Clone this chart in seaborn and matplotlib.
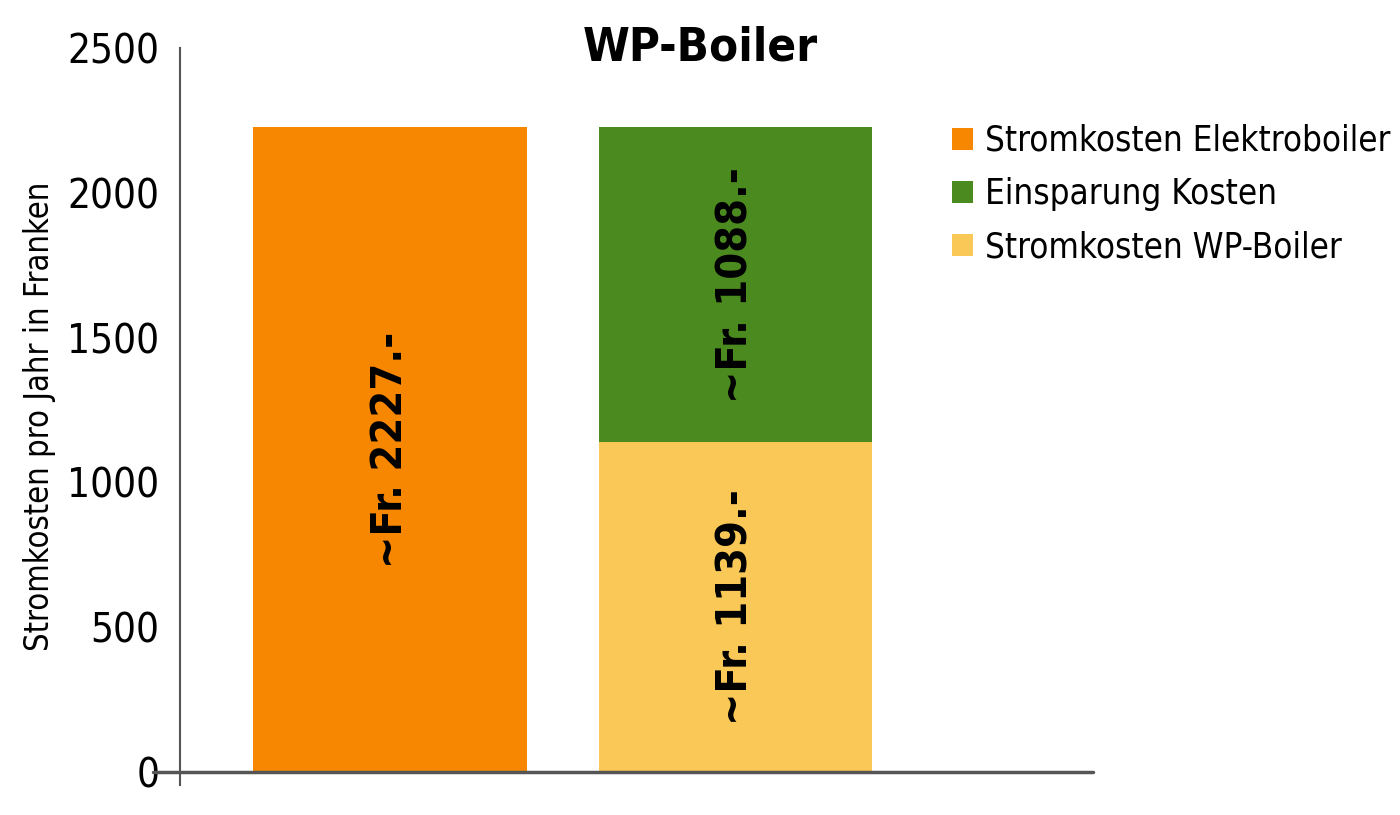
import numpy as np
import pandas as pd
import seaborn as sns
import matplotlib.pyplot as plt
from matplotlib.patches import Patch

# values (Franken per year)
categories = ["Elektroboiler", "WP-Boiler"]
strom_elektro = 2227
strom_wp = 1139
einsparung = 1088
legend_labels = ["Stromkosten Elektroboiler", "Einsparung Kosten", "Stromkosten WP-Boiler"]

orange = "#F78700"
green = "#4B8A1F"
yellow = "#FAC856"

sns.set_style("white")
plt.rcParams['font.family'] = ['DejaVu Sans']
plt.rcParams['font.stretch'] = 'condensed'
plt.rcParams['text.color'] = 'black'
plt.rcParams['axes.labelcolor'] = 'black'
plt.rcParams['ytick.labelcolor'] = 'black'

fig = plt.figure(figsize=(14, 8.15), dpi=100)
ax = fig.add_axes([180 / 1400, 30 / 815, (1093 - 180) / 1400, (785 - 48) / 815])

# back layer: full heights (WP total = strom + einsparung)
df_total = pd.DataFrame({"cat": categories, "val": [strom_elektro, strom_wp + einsparung]})
sns.barplot(data=df_total, x="cat", y="val", hue="cat", order=categories,
            palette=[orange, green], legend=False, width=0.793, saturation=1,
            linewidth=0, ax=ax)
# front layer: WP-Boiler running cost
df_wp = pd.DataFrame({"cat": ["WP-Boiler"], "val": [strom_wp]})
sns.barplot(data=df_wp, x="cat", y="val", order=categories, color=yellow,
            width=0.793, saturation=1, linewidth=0, ax=ax)

ax.set_xlim(-0.608, 2.035)
ax.set_ylim(-45, 2500)
ax.set_yticks([0, 500, 1000, 1500, 2000, 2500])
ax.set_xticks([])
ax.set_xlabel("")
ax.set_ylabel("Stromkosten pro Jahr in Franken", fontsize=23.5, labelpad=8)
ax.tick_params(axis='y', labelsize=29, length=9, width=1.5, color="#555555", pad=6)

for s in ["top", "right", "bottom"]:
    ax.spines[s].set_visible(False)
ax.spines["left"].set_color("#555555")
ax.spines["left"].set_linewidth(1.5)
ax.axhline(0, xmin=-0.03, xmax=1, color="#555555", lw=2.5, clip_on=False, zorder=5)

# value labels in the bar segments
lbl = dict(rotation=90, ha="center", va="center", fontsize=31, fontweight="bold")
ax.text(0, strom_elektro / 2, f"~Fr. {strom_elektro}.-", **lbl)
ax.text(1, strom_wp / 2, f"~Fr. {strom_wp}.-", **lbl)
ax.text(1, strom_wp + einsparung / 2, f"~Fr. {einsparung}.-", **lbl)

fig.text(700 / 1400, 1 - 48 / 815, "WP-Boiler", ha="center", va="center",
         fontsize=34, fontweight="bold")

handles = [Patch(facecolor=c, edgecolor="none") for c in [orange, green, yellow]]
fig.legend(handles, legend_labels, loc="upper left", bbox_to_anchor=(938 / 1400, 1 - 110 / 815),
           frameon=False, fontsize=25, handlelength=0.6, handleheight=0.6,
           handletextpad=0.35, labelspacing=0.55, borderaxespad=0)

fig.savefig("out.png", dpi=100)
